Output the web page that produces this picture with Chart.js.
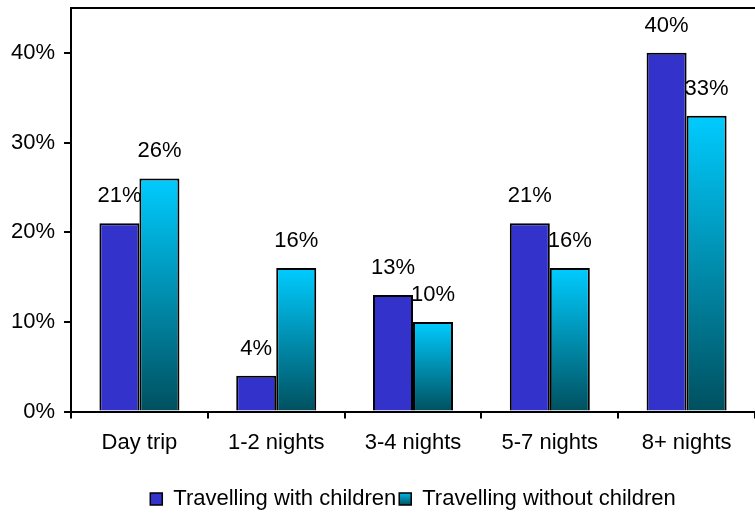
<!DOCTYPE html>
<html>
<head>
<meta charset="utf-8">
<script src="https://cdn.jsdelivr.net/npm/chart.js@4/dist/chart.umd.min.js"></script>
<style>
  html, body { margin: 0; padding: 0; background: #fff; }
  #wrap { width: 755px; height: 513px; }
</style>
</head>
<body>
<div id="wrap"><canvas id="tripChart"></canvas></div>
<script>
// trip length shares, in percent
var tripLengths = ["Day trip", "1-2 nights", "3-4 nights", "5-7 nights", "8+ nights"];
var withChildren = [21, 4, 13, 21, 40];
var withoutChildren = [26, 16, 10, 16, 33];
var yTicks = [0, 10, 20, 30, 40];

var FONT = "'Liberation Sans', Arial, sans-serif";
var FSIZE = 22;

// cyan bars fade from bright at the top to dark teal at the base
function cyanFill(context) {
  var chart = context.chart;
  var y = chart.scales && chart.scales.y;
  if (!chart.chartArea || !y || context.parsed == null) return "#00a9cc";
  var top = y.getPixelForValue(context.parsed.y);
  var base = y.getPixelForValue(0);
  if (!(base > top)) return "#00ccff";
  var g = chart.ctx.createLinearGradient(0, top, 0, base);
  g.addColorStop(0, "#00ccff");
  g.addColorStop(1, "#00505f");
  return g;
}

// value labels above each bar, plus the frame line along the top
var barLabels = {
  id: "barLabels",
  beforeDraw: function(chart) {
    // centre the legend under the plot area rather than the whole canvas
    if (chart.legend) {
      chart.legend.left = chart.chartArea.left;
      chart.legend.right = chart.chartArea.right;
    }
  },
  afterDatasetsDraw: function(chart) {
    var ctx = chart.ctx;
    ctx.save();
    ctx.font = FSIZE + "px " + FONT;
    ctx.fillStyle = "#000";
    ctx.textAlign = "center";
    ctx.textBaseline = "middle";
    chart.data.datasets.forEach(function(ds, i) {
      chart.getDatasetMeta(i).data.forEach(function(bar, j) {
        ctx.fillText(ds.data[j] + "%", bar.x, bar.y - 27);
      });
    });
    var a = chart.chartArea;
    ctx.strokeStyle = "#000";
    ctx.lineWidth = 2;
    ctx.beginPath();
    ctx.moveTo(a.left, a.top);
    ctx.lineTo(a.right, a.top);
    ctx.stroke();
    ctx.restore();
  }
};

var ctx = document.getElementById("tripChart").getContext("2d");
var chart = new Chart(ctx, {
  type: "bar",
  data: {
    labels: tripLengths,
    datasets: [{
      label: "Travelling with children",
      data: withChildren,
      backgroundColor: "#3333cc",
      borderColor: "#000",
      borderWidth: 2,
      borderSkipped: "bottom"
    }, {
      label: "Travelling without children",
      data: withoutChildren,
      backgroundColor: cyanFill,
      borderColor: "#000",
      borderWidth: 2,
      borderSkipped: "bottom"
    }]
  },
  options: {
    responsive: true,
    maintainAspectRatio: false,
    animation: false,
    categoryPercentage: 0.585,
    barPercentage: 1,
    layout: { padding: { top: 8, left: 2, right: 0, bottom: -7 } },
    scales: {
      x: {
        grid: { display: true, drawOnChartArea: false, offset: true, tickLength: 7, color: "#000", lineWidth: 2 },
        border: { color: "#000", width: 2 },
        ticks: { color: "#000", font: { family: FONT, size: FSIZE }, padding: 11 },
        afterFit: function(scale) {
          scale.height += 18;
        }
      },
      y: {
        min: 0,
        max: 45,
        afterBuildTicks: function(scale) {
          scale.ticks = yTicks.map(function(v) { return { value: v }; });
        },
        afterFit: function(scale) {
          scale.paddingTop = 0;
          scale.paddingBottom = 0;
        },
        grid: { display: true, drawOnChartArea: false, tickLength: 7, color: "#000", lineWidth: 2 },
        border: { color: "#000", width: 2 },
        ticks: {
          color: "#000",
          font: { family: FONT, size: FSIZE },
          padding: 9,
          callback: function(v) { return v + "%"; }
        }
      }
    },
    plugins: {
      tooltip: { enabled: false },
      legend: {
        position: "bottom",
        labels: {
          color: "#000",
          font: { family: FONT, size: FSIZE },
          boxWidth: 12,
          boxHeight: 12,
          padding: 3,
          generateLabels: function(chart) {
            var h = chart.height;
            var g = chart.ctx.createLinearGradient(0, h - 22, 0, h - 8);
            g.addColorStop(0, "#00ccff");
            g.addColorStop(1, "#00505f");
            var fills = ["#3333cc", g];
            return chart.data.datasets.map(function(ds, i) {
              return {
                text: ds.label,
                fillStyle: fills[i],
                strokeStyle: "#000",
                lineWidth: 1.5,
                fontColor: "#000",
                datasetIndex: i
              };
            });
          }
        }
      }
    }
  },
  plugins: [barLabels]
});
</script>
</body>
</html>
